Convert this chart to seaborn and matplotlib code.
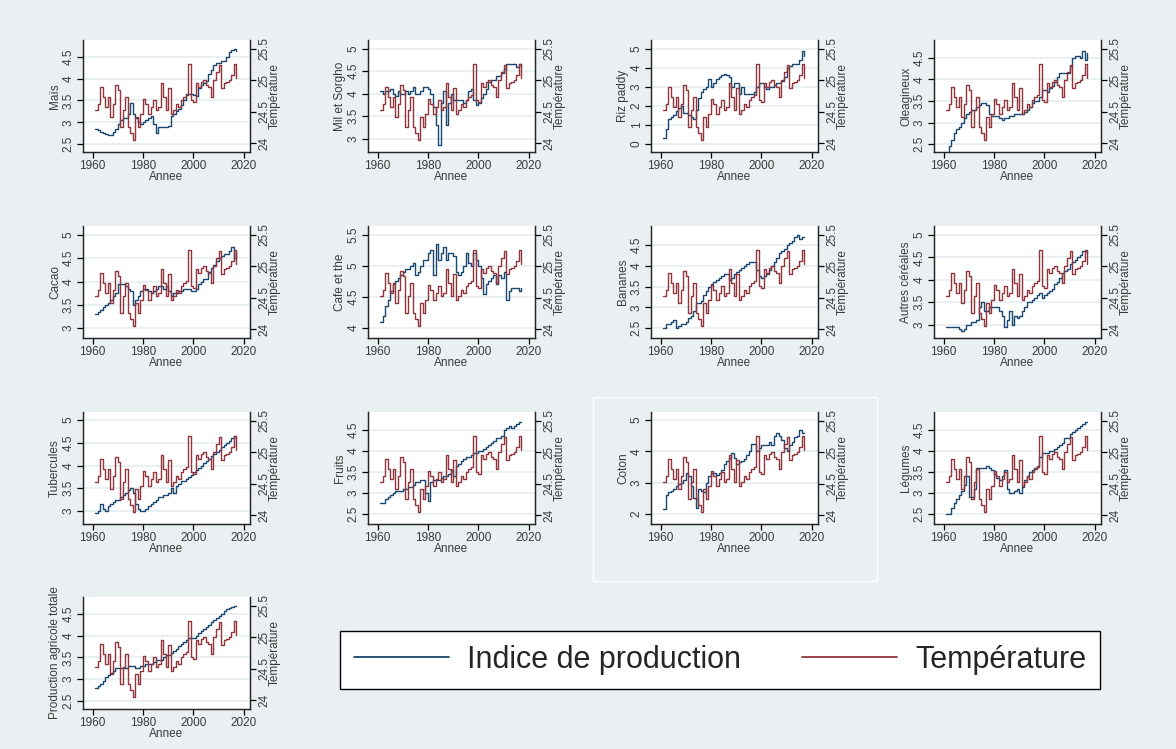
import numpy as np
import pandas as pd
import matplotlib
matplotlib.use('Agg')
import matplotlib.pyplot as plt
import seaborn as sns
from matplotlib.lines import Line2D
from matplotlib.patches import Rectangle

sns.set_style('ticks')
plt.rcParams['font.family'] = ['Liberation Sans', 'DejaVu Sans']

# Data, 1961-2017
years = list(range(1961, 2018))

temperature = [24.53, 24.63, 24.90, 24.74, 24.58, 24.74, 24.42, 24.63, 24.92, 24.84,
               24.26, 24.53, 24.74, 24.26, 24.16, 24.05, 24.42, 24.26, 24.47, 24.71,
               24.63, 24.47, 24.58, 24.68, 24.53, 24.58, 24.96, 24.74, 24.53, 24.87,
               24.47, 24.53, 24.63, 24.58, 24.68, 24.74, 24.76, 25.26, 24.68, 24.66,
               24.95, 24.90, 24.97, 25.00, 24.92, 24.90, 24.74, 25.00, 25.13, 25.24,
               24.87, 24.95, 24.97, 25.00, 25.08, 25.26, 25.03]

mais = [2.85, 2.82, 2.78, 2.76, 2.74, 2.72, 2.72, 2.78, 2.85, 2.95,
        3.05, 3.10, 3.10, 3.20, 3.45, 3.20, 3.10, 3.00, 2.95, 3.00,
        3.05, 3.10, 3.15, 2.95, 2.75, 2.90, 2.90, 2.90, 2.90, 2.92,
        3.15, 3.20, 3.25, 3.30, 3.40, 3.50, 3.65, 3.65, 3.65, 3.62,
        3.60, 3.78, 3.85, 3.90, 3.95, 4.10, 4.20, 4.30, 4.35, 4.35,
        4.40, 4.40, 4.50, 4.60, 4.65, 4.68, 4.62]

mil_sorgho = [4.05, 4.00, 4.05, 4.05, 4.10, 4.00, 3.95, 4.05, 4.00, 4.00,
              4.05, 4.00, 4.05, 4.15, 4.00, 4.00, 4.05, 4.15, 4.15, 4.10,
              4.00, 3.70, 3.30, 2.85, 3.80, 4.05, 3.30, 3.80, 4.00, 3.85,
              3.85, 3.85, 3.85, 3.80, 3.85, 4.05, 4.10, 3.85, 3.75, 3.80,
              3.90, 4.00, 4.10, 4.25, 4.30, 4.30, 4.40, 4.40, 4.45, 4.55,
              4.65, 4.65, 4.65, 4.65, 4.60, 4.65, 4.60]

riz_paddy = [0.3, 0.8, 1.3, 1.4, 1.5, 1.7, 1.9, 2.0, 1.6, 1.6,
             1.5, 1.4, 1.3, 1.8, 2.4, 2.7, 2.9, 3.0, 3.4, 3.0,
             3.2, 3.4, 3.5, 3.6, 3.7, 3.6, 3.5, 3.0, 3.2, 3.2,
             2.6, 3.0, 2.6, 2.6, 2.6, 2.6, 2.7, 3.0, 3.2, 3.2,
             3.0, 2.9, 3.0, 3.0, 3.1, 3.2, 3.2, 3.3, 3.5, 4.0,
             4.1, 4.2, 4.2, 4.2, 4.4, 4.9, 4.6]

oleagineux = [2.30, 2.45, 2.60, 2.75, 2.85, 2.90, 3.00, 3.10, 3.20, 3.25,
              3.30, 3.30, 3.35, 3.40, 3.45, 3.45, 3.40, 3.20, 3.15, 3.15,
              3.15, 3.10, 3.05, 3.10, 3.10, 3.15, 3.15, 3.20, 3.20, 3.20,
              3.20, 3.25, 3.30, 3.35, 3.45, 3.50, 3.50, 3.60, 3.75, 3.75,
              3.70, 3.80, 3.85, 3.95, 4.05, 4.15, 4.15, 4.15, 4.15, 4.30,
              4.50, 4.55, 4.55, 4.50, 4.65, 4.45, 4.60]

cacao = [3.30, 3.35, 3.40, 3.45, 3.50, 3.55, 3.60, 3.70, 3.75, 3.95,
         3.95, 3.95, 3.90, 3.85, 3.80, 3.50, 3.60, 3.70, 3.80, 3.85,
         3.85, 3.80, 3.75, 3.80, 3.85, 3.90, 3.90, 3.85, 3.90, 3.80,
         3.70, 3.75, 3.75, 3.80, 3.80, 3.85, 3.85, 3.85, 3.80, 3.80,
         3.85, 3.95, 4.00, 4.05, 4.05, 4.20, 4.30, 4.35, 4.45, 4.50,
         4.55, 4.60, 4.60, 4.65, 4.75, 4.50, 4.65]

cafe_the = [4.10, 4.20, 4.35, 4.45, 4.60, 4.70, 4.75, 4.80, 4.85, 4.90,
            4.95, 4.95, 5.00, 5.05, 4.85, 4.90, 5.00, 5.10, 5.10, 5.20,
            5.25, 4.85, 5.35, 5.10, 5.20, 5.30, 5.10, 5.20, 5.20, 5.15,
            4.90, 4.85, 4.90, 5.00, 5.20, 5.05, 5.00, 5.20, 5.10, 5.00,
            4.80, 4.55, 4.70, 4.75, 4.80, 4.85, 4.70, 4.85, 4.80, 4.90,
            4.45, 4.60, 4.65, 4.65, 4.65, 4.60, 4.65]

bananes = [2.50, 2.60, 2.60, 2.65, 2.70, 2.50, 2.55, 2.60, 2.60, 2.65,
           2.75, 2.80, 2.90, 3.10, 3.10, 3.15, 3.30, 3.40, 3.50, 3.55,
           3.60, 3.65, 3.70, 3.75, 3.80, 3.80, 3.65, 3.70, 3.80, 3.85,
           3.90, 3.95, 4.00, 4.05, 4.10, 4.10, 4.10, 3.90, 3.75, 3.70,
           3.75, 3.80, 3.90, 4.00, 4.10, 4.20, 4.30, 4.35, 4.40, 4.50,
           4.55, 4.60, 4.70, 4.75, 4.65, 4.70, 4.70]

autres_cereales = [2.95, 2.95, 2.95, 2.95, 2.95, 2.90, 2.85, 2.90, 3.00, 3.00,
                   3.05, 3.05, 3.10, 3.40, 3.50, 3.30, 3.30, 3.40, 3.40, 3.40,
                   3.40, 3.30, 3.20, 2.95, 3.10, 3.30, 3.00, 3.20, 3.15, 3.20,
                   3.30, 3.40, 3.50, 3.50, 3.55, 3.60, 3.65, 3.70, 3.60, 3.65,
                   3.70, 3.75, 3.80, 3.90, 3.95, 4.05, 4.15, 4.20, 4.25, 4.35,
                   4.40, 4.45, 4.50, 4.55, 4.65, 4.65, 4.60]

tubercules = [2.95, 3.00, 3.15, 3.05, 3.00, 3.10, 3.15, 3.20, 3.25, 3.25,
              3.30, 3.35, 3.40, 3.45, 3.50, 3.40, 3.15, 3.05, 3.00, 3.00,
              3.05, 3.10, 3.15, 3.20, 3.25, 3.30, 3.30, 3.35, 3.35, 3.40,
              3.50, 3.40, 3.55, 3.60, 3.65, 3.65, 3.70, 3.75, 3.80, 3.85,
              3.90, 3.95, 4.00, 4.05, 4.10, 4.15, 4.20, 4.25, 4.30, 4.35,
              4.40, 4.45, 4.50, 4.55, 4.60, 4.65, 4.60]

fruits = [2.75, 2.75, 2.85, 2.90, 2.95, 3.00, 3.05, 3.05, 3.05, 3.10,
          3.10, 3.15, 3.15, 3.20, 3.25, 3.25, 3.30, 3.30, 3.00, 2.80,
          3.25, 3.30, 3.30, 3.30, 3.35, 3.40, 3.40, 3.45, 3.55, 3.40,
          3.65, 3.70, 3.75, 3.80, 3.85, 3.85, 3.90, 3.95, 3.95, 4.00,
          4.00, 4.05, 4.10, 4.15, 4.20, 4.25, 4.30, 4.30, 4.35, 4.50,
          4.55, 4.60, 4.55, 4.60, 4.65, 4.70, 4.70]

coton = [2.15, 2.60, 2.70, 2.75, 2.80, 2.90, 2.95, 3.00, 3.10, 3.30,
         3.20, 2.90, 2.50, 2.20, 2.80, 2.75, 2.70, 3.00, 3.20, 3.30,
         3.30, 3.25, 3.30, 3.40, 3.60, 3.70, 3.80, 3.95, 3.80, 3.60,
         3.65, 3.70, 3.75, 3.90, 4.00, 4.25, 4.25, 4.00, 4.10, 4.20,
         4.20, 4.20, 4.30, 4.20, 4.50, 4.60, 4.50, 4.35, 4.10, 4.00,
         4.20, 4.30, 4.45, 4.50, 4.70, 4.60, 4.60]

legumes = [2.50, 2.50, 2.65, 2.75, 2.85, 2.95, 3.05, 3.20, 3.40, 2.90,
           2.90, 3.10, 3.60, 3.60, 3.60, 3.60, 3.65, 3.60, 3.55, 3.45,
           3.35, 3.30, 3.40, 3.55, 3.10, 3.00, 3.00, 3.05, 3.10, 3.00,
           3.15, 3.30, 3.40, 3.50, 3.55, 3.60, 3.65, 3.85, 3.95, 3.95,
           3.95, 4.00, 4.00, 4.05, 4.10, 4.15, 4.20, 4.30, 4.30, 4.40,
           4.45, 4.50, 4.55, 4.60, 4.65, 4.70, 4.70]

production_totale = [2.80, 2.85, 2.90, 2.95, 3.05, 3.10, 3.15, 3.20, 3.25, 3.25,
                     3.25, 3.25, 3.25, 3.30, 3.30, 3.30, 3.25, 3.25, 3.30, 3.30,
                     3.35, 3.35, 3.35, 3.40, 3.45, 3.45, 3.45, 3.50, 3.55, 3.55,
                     3.60, 3.65, 3.70, 3.75, 3.80, 3.85, 3.90, 3.95, 3.95, 3.95,
                     4.00, 4.05, 4.10, 4.15, 4.20, 4.25, 4.30, 4.35, 4.40, 4.45,
                     4.50, 4.55, 4.60, 4.62, 4.65, 4.68, 4.68]

labels = ["Maïs", "Mil et Sorgho", "Riz paddy", "Oleagineux",
          "Cacao", "Cafe et the", "Bananes", "Autres céréales",
          "Tubercules", "Fruits", "Coton", "Légumes",
          "Production agricole totale"]
series = [mais, mil_sorgho, riz_paddy, oleagineux,
          cacao, cafe_the, bananes, autres_cereales,
          tubercules, fruits, coton, legumes, production_totale]
left_ticks = [[2.5, 3, 3.5, 4, 4.5], [3, 3.5, 4, 4.5, 5], [0, 1, 2, 3, 4, 5], [2.5, 3, 3.5, 4, 4.5],
              [3, 3.5, 4, 4.5, 5], [4, 4.5, 5, 5.5], [2.5, 3, 3.5, 4, 4.5], [3, 3.5, 4, 4.5, 5],
              [3, 3.5, 4, 4.5, 5], [2.5, 3, 3.5, 4, 4.5], [2, 3, 4, 5], [2.5, 3, 3.5, 4, 4.5],
              [2.5, 3, 3.5, 4, 4.5]]
left_lims = [(2.32, 4.88), (2.70, 5.19), (-0.44, 5.47), (2.32, 4.91),
             (2.79, 5.19), (3.84, 5.64), (2.26, 4.96), (2.70, 5.20),
             (2.71, 5.18), (2.26, 4.93), (1.68, 5.26), (2.26, 4.93),
             (2.32, 4.88)]
temp_ticks = [24, 24.5, 25, 25.5]

BLUE = '#1a476f'
RED = '#90353b'
BG = '#eaf0f2'
GRID = '#e4edf1'
TXT = '#3a3a3a'
FS = 8.5

W, H = 1176, 749
fig = plt.figure(figsize=(W / 100, H / 100), dpi=100, facecolor=BG)

col_left = [83, 368, 651, 934]
row_top = [40, 226, 412, 597]
pw, ph = 167, 112

for i, (lab, vals) in enumerate(zip(labels, series)):
    r, c = divmod(i, 4)
    x0, y0 = col_left[c], row_top[r]
    ax = fig.add_axes([x0 / W, 1 - (y0 + ph) / H, pw / W, ph / H])
    ax.set_facecolor('white')
    df = pd.DataFrame({'Annee': years, 'prod': vals, 'temp': temperature})
    sns.lineplot(data=df, x='Annee', y='prod', ax=ax, color=BLUE, lw=1.0,
                 drawstyle='steps-post', zorder=3)
    ax.set_xlim(1956.2, 2022.5)
    ax.set_ylim(*left_lims[i])
    ax.set_xticks([1960, 1980, 2000, 2020])
    ax.set_yticks(left_ticks[i])
    ax.set_yticklabels(['%g' % t for t in left_ticks[i]], rotation=90, va='center')
    ax.yaxis.grid(True, color=GRID, lw=1.2)
    ax.set_axisbelow(True)
    ax.tick_params(labelsize=FS, colors='black', labelcolor=TXT, length=4, width=0.9, pad=2)
    ax.set_xlabel('Annee', fontsize=FS, color=TXT, labelpad=-1)
    ax.set_ylabel(lab, fontsize=FS, color=TXT, labelpad=1)
    for s in ['left', 'bottom']:
        ax.spines[s].set_linewidth(1.0)
    ax.spines['top'].set_visible(False)

    ax2 = ax.twinx()
    sns.lineplot(data=df, x='Annee', y='temp', ax=ax2, color=RED, lw=1.0,
                 drawstyle='steps-post', zorder=2)
    ax2.set_ylim(23.86, 25.64)
    ax2.set_yticks(temp_ticks)
    ax2.set_yticklabels(['%g' % t for t in temp_ticks], rotation=90, va='center')
    ax2.tick_params(labelsize=FS, colors='black', labelcolor=TXT, length=4, width=0.9, pad=2)
    ax2.set_ylabel('Température', fontsize=FS, color=TXT, rotation=90, labelpad=-1)
    ax2.spines['top'].set_visible(False)
    ax2.spines['right'].set_linewidth(1.0)

# white frame around the Coton panel
fig.add_artist(Rectangle((593 / W, 1 - 581 / H), (877 - 593) / W, (581 - 397) / H,
                         transform=fig.transFigure, fill=False, edgecolor='white', lw=1))

handles = [Line2D([], [], color=BLUE, lw=1.3), Line2D([], [], color=RED, lw=1.3)]
leg = fig.legend(handles, ['Indice de production', 'Température'], ncol=2,
                 loc='center', bbox_to_anchor=(720 / W, 1 - 660 / H),
                 fontsize=22, frameon=True, fancybox=False, handlelength=3.1,
                 handletextpad=0.6, columnspacing=2.0, borderpad=0.45)
leg.get_frame().set_edgecolor('black')
leg.get_frame().set_linewidth(1.0)
leg.get_frame().set_facecolor('white')
leg.get_frame().set_alpha(1)

fig.savefig('out.png', dpi=100, facecolor=BG)
